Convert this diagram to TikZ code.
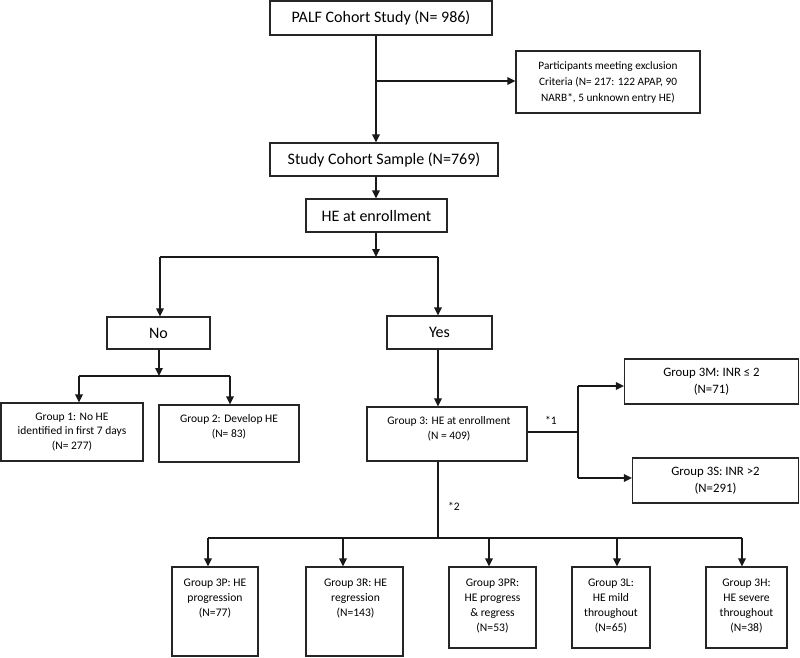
\documentclass[tikz,border=0pt]{standalone}
\usepackage{fontspec}
\setmainfont{Carlito}
\usetikzlibrary{arrows.meta}
\begin{document}
\begin{tikzpicture}[x=1pt,y=-1pt,
  box/.style={draw=black!85, line width=1.2pt, rectangle, inner sep=0pt, align=center},
  ln/.style={line width=1.4pt, draw=black!90},
  arr/.style={ln, -{Triangle[length=8pt,width=7.5pt]}},
  txt/.style={inner sep=0pt, align=center},
  big/.style={font=\fontsize{16}{19}\selectfont},
  mid/.style={font=\fontsize{12.8}{17}\selectfont},
  sml/.style={font=\fontsize{11.3}{16}\selectfont},
  grp/.style={font=\fontsize{11.5}{14.5}\selectfont},
  bot/.style={font=\fontsize{11.6}{15.3}\selectfont},
  star/.style={inner sep=0pt, font=\fontsize{11.5}{13}\selectfont}
]
\useasboundingbox (0,0) rectangle (800,657);

% boxes
\node[box,big,minimum width=222,minimum height=34] (palf) at (381,18) {PALF Cohort Study (N= 986)};
\node[box,sml,minimum width=184,minimum height=62] (excl) at (608,82) {Participants meeting exclusion\\Criteria (N= 217: 122 APAP, 90\\NARB*, 5 unknown entry HE)};
\node[box,big,minimum width=228,minimum height=33] (study) at (384,159.5) {Study Cohort Sample (N=769)};
\node[box,big,minimum width=141,minimum height=33] (heenr) at (376.5,215.5) {HE at enrollment};
\node[box,big,minimum width=103,minimum height=32] (no) at (158.5,333) {No};
\node[box,big,minimum width=105,minimum height=33] (yes) at (439.5,332.5) {Yes};
\node[box,grp,minimum width=142,minimum height=58] (g1) at (72,432) {Group 1: No HE\\identified in first 7 days\\(N= 277)};
\node[box,minimum width=140,minimum height=57] (g2) at (229,433.5) {};
\node[txt,grp] (g2t) at (229,427) {Group 2: Develop HE\\(N= 83)};
\node[box,minimum width=160,minimum height=54] (g3) at (447,434) {};
\node[txt,grp] (g3t) at (449,429) {Group 3: HE at enrollment\\(N = 409)};
\node[box,mid,minimum width=174,minimum height=45] (g3m) at (711.5,381.5) {Group 3M: INR ≤ 2\\(N=71)};
\node[box,mid,minimum width=166,minimum height=45] (g3s) at (715.5,480.5) {Group 3S: INR >2\\(N=291)};

\node[box,minimum width=86,minimum height=89] (p3p) at (215,611.5) {};
\node[txt,bot] (t3p) at (215,598.5) {Group 3P: HE\\progression\\(N=77)};
\node[box,minimum width=97,minimum height=89] (p3r) at (354.5,611.5) {};
\node[txt,bot] (t3r) at (355.5,598.5) {Group 3R: HE\\regression\\(N=143)};
\node[box,minimum width=87,minimum height=81] (p3pr) at (492.5,607.5) {};
\node[txt,bot] (t3pr) at (492.5,606) {Group 3PR:\\HE progress\\\& regress\\(N=53)};
\node[box,minimum width=78,minimum height=81] (p3l) at (611,607.5) {};
\node[txt,bot] (t3l) at (611,606) {Group 3L:\\HE mild\\throughout\\(N=65)};
\node[box,minimum width=81,minimum height=81] (p3h) at (746.5,607.5) {};
\node[txt,bot] (t3h) at (746.5,606) {Group 3H:\\HE severe\\throughout\\(N=38)};

\node[star] (s1) at (551,420) {*1};
\node[star] (s2) at (454,506) {*2};

% junctions
\coordinate (c1) at (376,81);
\coordinate (c2) at (376,257);
\coordinate (c2L) at (160,257);
\coordinate (c2R) at (438,257);
\coordinate (c3) at (159,376);
\coordinate (c3L) at (79,376);
\coordinate (c3R) at (230,376);
\coordinate (c4) at (578,432);
\coordinate (c4T) at (578,386);
\coordinate (c4B) at (578,478);
\coordinate (c5) at (438,538);
\coordinate (c5L) at (208,538);
\coordinate (c5R) at (742,538);
\coordinate (x3r) at (343,538);
\coordinate (x3pr) at (489,538);
\coordinate (x3l) at (617,538);

% connectors
\draw[ln] (palf.south -| c1) -- (c1);
\draw[arr] (c1) -- (study.north -| c1);
\draw[arr] (c1) -- (excl.west |- c1);
\draw[arr] (study.south -| c1) -- (heenr.north -| c1);
\draw[arr] (heenr.south -| c2) -- (c2);
\draw[ln] (c2L) -- (c2R);
\draw[arr] (c2L) -- (no.north -| c2L);
\draw[arr] (c2R) -- (yes.north -| c2R);
\draw[arr] (yes.south -| c2R) -- (g3.north -| c2R);
\draw[arr] (no.south -| c3) -- (c3);
\draw[ln] (c3L) -- (c3R);
\draw[arr] (c3L) -- (g1.north -| c3L);
\draw[arr] (c3R) -- (g2.north -| c3R);
\draw[ln] (g3.east |- c4) -- (c4);
\draw[ln] (c4T) -- (c4B);
\draw[arr] (c4T) -- (g3m.west |- c4T);
\draw[arr] (c4B) -- (g3s.west |- c4B);
\draw[ln] (g3.south -| c5) -- (c5);
\draw[ln] (c5L) -- (c5R);
\draw[arr] (c5L) -- (p3p.north -| c5L);
\draw[arr] (x3r) -- (p3r.north -| x3r);
\draw[arr] (x3pr) -- (p3pr.north -| x3pr);
\draw[arr] (x3l) -- (p3l.north -| x3l);
\draw[arr] (c5R) -- (p3h.north -| c5R);
\end{tikzpicture}
\end{document}
